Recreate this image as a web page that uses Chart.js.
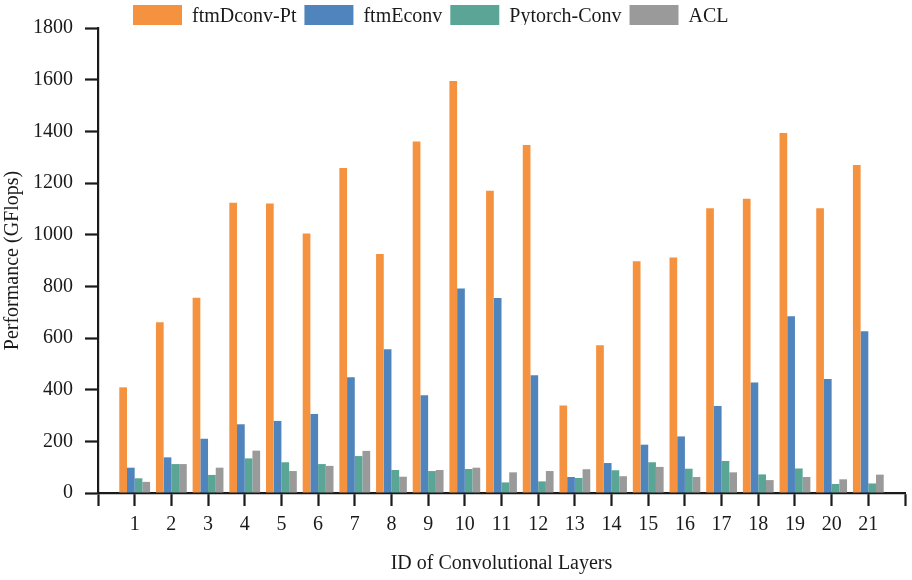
<!DOCTYPE html>
<html>
<head>
<meta charset="utf-8">
<script src="https://cdn.jsdelivr.net/npm/chart.js@4"></script>
<style>
html,body{margin:0;padding:0;background:#ffffff;}
#wrap{width:912px;height:580px;}
</style>
</head>
<body>
<div id="wrap"><canvas id="c" width="912" height="580"></canvas></div>
<script>
const categories = ['1','2','3','4','5','6','7','8','9','10','11','12','13','14','15','16','17','18','19','20','21'];
const ftmDconvPt = [409, 661, 756, 1124, 1121, 1005, 1258, 925, 1361, 1595, 1170, 1347, 339, 572, 897, 912, 1102, 1139, 1394, 1102, 1270];
const ftmEconv   = [98, 138, 210, 266, 279, 306, 448, 556, 378, 792, 755, 456, 62, 116, 187, 219, 337, 428, 684, 441, 626];
const pytorchConv = [57, 112, 70, 134, 119, 112, 143, 89, 85, 93, 41, 45, 58, 88, 119, 94, 124, 72, 95, 35, 37];
const acl        = [43, 112, 98, 164, 85, 105, 163, 63, 89, 98, 80, 85, 92, 65, 101, 62, 80, 50, 62, 53, 71];
const yTicks = [0, 200, 400, 600, 800, 1000, 1200, 1400, 1600, 1800];

const seriesNames = ['ftmDconv-Pt', 'ftmEconv', 'Pytorch-Conv', 'ACL'];
const seriesColors = ['#F59240', '#4F84BC', '#5BA597', '#9A9A9A'];

// padded category axis: empty slot before and after the 21 layers
const labels = [''].concat(categories, ['']);
const pad = arr => [null].concat(arr, [null]);

const ink = '#1a1a1a';
const serif = 'Liberation Serif';
const fsize = 20;

const legendShift = {
  id: 'legendShift',
  afterLayout(chart) {
    const lg = chart.legend;
    if (lg) { lg.left += 125; lg.right += 125; lg.top -= 3; lg.bottom -= 3; }
  }
};

new Chart(document.getElementById('c'), {
  type: 'bar',
  data: {
    labels: labels,
    datasets: [ftmDconvPt, ftmEconv, pytorchConv, acl].map((d, i) => ({
      label: seriesNames[i],
      data: pad(d),
      backgroundColor: seriesColors[i],
      borderWidth: 0,
      categoryPercentage: 0.84,
      barPercentage: 1.0
    }))
  },
  options: {
    responsive: false,
    animation: false,
    devicePixelRatio: 1,
    layout: { padding: { left: 0, right: 4, top: 0, bottom: 0 } },
    plugins: {
      legend: {
        position: 'top',
        align: 'start',
        maxHeight: 28,
        labels: {
          boxWidth: 49,
          boxHeight: 24,
          padding: 8,
          color: ink,
          font: { family: serif, size: fsize }
        }
      },
      tooltip: { enabled: false }
    },
    scales: {
      x: {
        type: 'category',
        offset: false,
        grid: {
          display: true,
          drawOnChartArea: false,
          drawTicks: true,
          tickLength: 13,
          tickWidth: 2.2,
          tickColor: ink,
          offset: false
        },
        border: { display: true, color: ink, width: 2.2 },
        ticks: {
          autoSkip: false,
          maxRotation: 0,
          minRotation: 0,
          padding: 7,
          color: ink,
          font: { family: serif, size: fsize }
        },
        title: {
          display: true,
          text: 'ID of Convolutional Layers',
          color: ink,
          font: { family: serif, size: fsize },
          padding: { top: 0, bottom: 4 }
        },
        afterFit(s) { s.height = 87; }
      },
      y: {
        min: 0,
        max: 1800,
        afterBuildTicks(s) { s.ticks = yTicks.map(v => ({ value: v })); },
        grid: {
          display: true,
          drawOnChartArea: false,
          drawTicks: true,
          tickLength: 13,
          tickWidth: 2.2,
          tickColor: ink
        },
        border: { display: true, color: ink, width: 2.2 },
        ticks: {
          padding: 12,
          color: ink,
          font: { family: serif, size: fsize },
          callback: v => String(v)
        },
        title: {
          display: true,
          text: 'Performance (GFlops)',
          color: ink,
          font: { family: serif, size: fsize },
          padding: { top: 1, bottom: 0 }
        },
        afterFit(s) { s.width = 98; }
      }
    }
  },
  plugins: [legendShift]
});
</script>
</body>
</html>
